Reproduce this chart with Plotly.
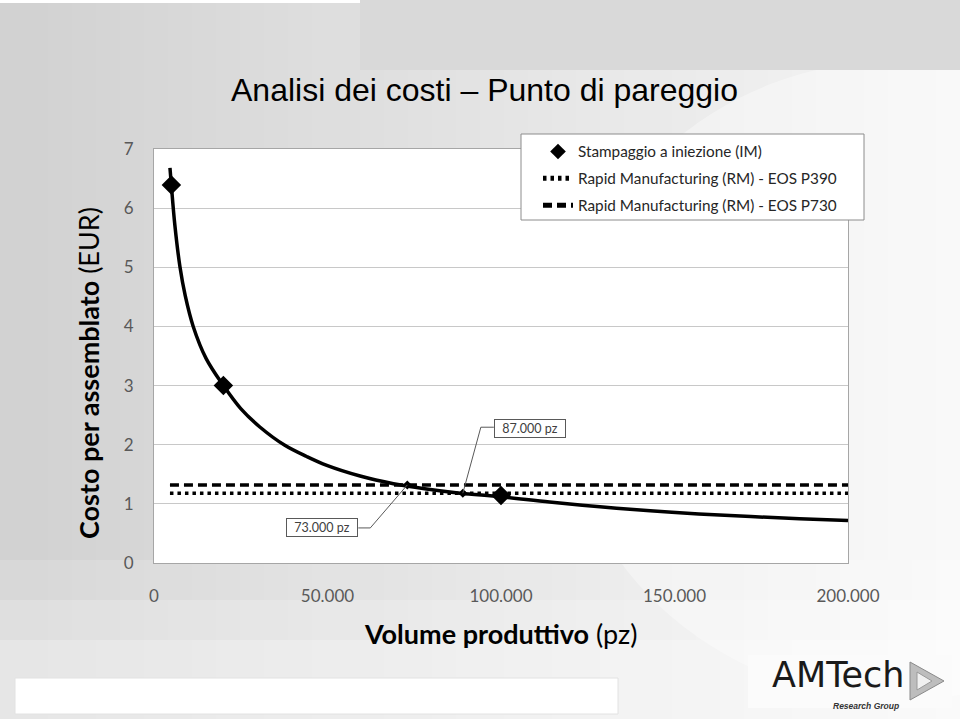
import plotly.graph_objects as go

# ---------------- data ----------------
im_volume = [5000, 20000, 100000]
im_cost = [6.39, 3.0, 1.14]

curve_volume = [4600, 5000, 6000, 7500, 9000, 11300, 15000, 20000, 25000, 30500,
                37700, 44000, 49800, 59400, 69000, 78000, 88200, 100000, 114000,
                128500, 143000, 157000, 172000, 186000, 200000]
curve_cost = [6.68, 6.39, 5.72, 5.0, 4.52, 4.0, 3.46, 3.0, 2.61, 2.30,
              1.99, 1.8, 1.65, 1.47, 1.34, 1.255, 1.18, 1.12, 1.03,
              0.95, 0.885, 0.83, 0.785, 0.75, 0.72]

rm390_volume = [4600, 200000]
rm390_cost = [1.18, 1.18]
rm730_volume = [4600, 200000]
rm730_cost = [1.32, 1.32]

be_volume = [73000, 89000]
be_cost = [1.32, 1.18]
be_labels = ["73.000 pz", "87.000 pz"]

x_ticks = [0, 50000, 100000, 150000, 200000]
y_ticks = [0, 1, 2, 3, 4, 5, 6, 7]

# ---------------- layout helpers (pixel -> paper) ----------------
L, R, T, B = 154, 848, 149, 563
W, H = 960, 719


def PX(x):
    return (x - L) / (R - L)


def PY(y):
    return (B - y) / (B - T)


LEG_FONT = "Lato, 'Open Sans', sans-serif"

fig = go.Figure()

fig.add_trace(go.Scatter(
    x=curve_volume, y=curve_cost, mode="lines",
    line=dict(color="black", width=3.5, shape="spline", smoothing=1.0),
    showlegend=False, hoverinfo="skip"))

fig.add_trace(go.Scatter(
    x=rm390_volume, y=rm390_cost, mode="lines",
    name="Rapid Manufacturing (RM) - EOS P390",
    line=dict(color="black", width=3.5, dash="3.5px,4px"),
    legendgroup="b", legendrank=2))

fig.add_trace(go.Scatter(
    x=rm730_volume, y=rm730_cost, mode="lines",
    name="Rapid Manufacturing (RM) - EOS P730",
    line=dict(color="black", width=3.5, dash="9px,5px"),
    legendgroup="c", legendrank=3))

fig.add_trace(go.Scatter(
    x=be_volume, y=be_cost, mode="markers",
    marker=dict(symbol="diamond", size=7, color="black"),
    showlegend=False, hoverinfo="skip"))

fig.add_trace(go.Scatter(
    x=im_volume, y=im_cost, mode="markers",
    name="Stampaggio a iniezione (IM)",
    marker=dict(symbol="diamond", size=15, color="black"),
    legendgroup="a", legendrank=1))

# ---------------- background shapes ----------------
shapes = []
N = 40
for i in range(N):
    t = i / (N - 1)
    c = int(210 + 36 * t)
    shapes.append(dict(type="rect", xref="paper", yref="paper", layer="below",
                       x0=PX(i * W / N), x1=PX((i + 1) * W / N + 1),
                       y0=PY(H), y1=PY(0),
                       fillcolor=f"rgb({c},{c},{c})", line=dict(width=0)))
for (y0, y1, op) in [(560, 600, 0.15), (600, 640, 0.3), (640, 719, 0.45)]:
    shapes.append(dict(type="rect", xref="paper", yref="paper", layer="below",
                       x0=PX(0), x1=PX(W), y0=PY(y1), y1=PY(y0),
                       fillcolor="white", opacity=op, line=dict(width=0)))
shapes.append(dict(type="circle", xref="paper", yref="paper", layer="below",
                   x0=PX(560), x1=PX(1240), y0=PY(700), y1=PY(60),
                   fillcolor="white", opacity=0.35, line=dict(width=0)))
shapes.append(dict(type="rect", xref="paper", yref="paper", layer="below",
                   x0=PX(0), x1=PX(360), y0=PY(3), y1=PY(0),
                   fillcolor="white", line=dict(width=0)))
shapes.append(dict(type="rect", xref="paper", yref="paper", layer="below",
                   x0=PX(360), x1=PX(W), y0=PY(70), y1=PY(0),
                   fillcolor="#d9d9d9", line=dict(width=0)))
shapes.append(dict(type="rect", xref="paper", yref="paper", layer="below",
                   x0=0, x1=1, y0=0, y1=1, fillcolor="white", line=dict(width=0)))
shapes.append(dict(type="rect", xref="paper", yref="paper", layer="below",
                   x0=PX(15), x1=PX(618), y0=PY(714), y1=PY(678),
                   fillcolor="white", line=dict(color="#e2e2e2", width=1)))
shapes.append(dict(type="rect", xref="paper", yref="paper", layer="below",
                   x0=PX(748), x1=PX(952), y0=PY(708), y1=PY(655),
                   fillcolor="#fbfbfb", line=dict(width=0)))
# logo triangle
shapes.append(dict(type="path", xref="paper", yref="paper", layer="above",
                   path=f"M {PX(910)} {PY(662)} L {PX(944)} {PY(681)} L {PX(910)} {PY(700)} Z",
                   fillcolor="#bdbdbd", line=dict(color="#8a8a8a", width=1)))
shapes.append(dict(type="path", xref="paper", yref="paper", layer="above",
                   path=f"M {PX(917)} {PY(672)} L {PX(932)} {PY(681)} L {PX(917)} {PY(690)} Z",
                   fillcolor="#f0f0f0", line=dict(color="#9a9a9a", width=1)))
# legend frame
shapes.append(dict(type="rect", xref="paper", yref="paper", layer="above",
                   x0=PX(521), x1=PX(864), y0=PY(220), y1=PY(134),
                   fillcolor="white", line=dict(color="#8c8c8c", width=1)))

# ---------------- leader lines (pixel offsets from the break-even points) ----------------
leaders = [
    [(0, 0, -37, -43), (-37, -43, -49, -43)],
    [(0, 0, 18, 66), (18, 66, 31, 66)],
]
for (bx, by, segs) in zip(be_volume, be_cost, leaders):
    for (a0, b0, a1, b1) in segs:
        shapes.append(dict(type="line", xref="x", yref="y",
                           xsizemode="pixel", ysizemode="pixel",
                           xanchor=bx, yanchor=by,
                           x0=a0, x1=a1, y0=b0, y1=b1,
                           line=dict(color="#595959", width=1), layer="above"))

# ---------------- annotations ----------------
annotations = []
label_shift = [(-85, -43), (67, 65)]
for bx, by, lab, (sx, sy) in zip(be_volume, be_cost, be_labels, label_shift):
    annotations.append(dict(x=bx, y=by, xref="x", yref="y", text=lab, showarrow=False,
                            xshift=sx, yshift=sy,
                            font=dict(family=LEG_FONT, size=12.5, color="#404040"),
                            bgcolor="white", bordercolor="#595959", borderwidth=1,
                            borderpad=1, width=68))

annotations.append(dict(x=PX(484), y=PY(90), xref="paper", yref="paper",
                        text="Analisi dei costi – Punto di pareggio", showarrow=False,
                        xanchor="center", yanchor="middle",
                        font=dict(family="Liberation Sans, Arial, sans-serif", size=32,
                                  color="black")))
annotations.append(dict(x=PX(88), y=PY(373), xref="paper", yref="paper",
                        text="<b>Costo per assemblato</b> (EUR)", showarrow=False,
                        textangle=-90, xanchor="center", yanchor="middle",
                        font=dict(family=LEG_FONT, size=27, color="black")))
annotations.append(dict(x=PX(500), y=PY(633), xref="paper", yref="paper",
                        text="<b>Volume produttivo</b> (pz)", showarrow=False,
                        xanchor="center", yanchor="middle",
                        font=dict(family=LEG_FONT, size=27, color="black")))
# logo
annotations.append(dict(x=PX(907), y=PY(675), xref="paper", yref="paper",
                        text="AMTech", showarrow=False, xanchor="right", yanchor="middle",
                        font=dict(family="DejaVu Sans, sans-serif", size=35,
                                  color="#1a1a1a")))
annotations.append(dict(x=PX(901), y=PY(706), xref="paper", yref="paper",
                        text="<i><b>Research Group</b></i>", showarrow=False,
                        xanchor="right", yanchor="middle",
                        font=dict(family="Liberation Sans, sans-serif", size=8.5,
                                  color="#333333")))

fig.update_layout(
    width=W, height=H,
    margin=dict(l=L, r=W - R, t=T, b=H - B),
    paper_bgcolor="#e6e6e6", plot_bgcolor="white",
    separators=",.",
    shapes=shapes, annotations=annotations,
    showlegend=True,
    legend=dict(x=PX(538), y=PY(135), xanchor="left", yanchor="top",
                bgcolor="rgba(0,0,0,0)", borderwidth=0,
                font=dict(family=LEG_FONT, size=15.3, color="#262626"),
                traceorder="grouped", tracegroupgap=4, itemwidth=30,
                itemsizing="constant"),
    xaxis=dict(range=[0, 200000], tickvals=x_ticks, tickformat=",d",
               showgrid=False, zeroline=False,
               showline=True, mirror=True, linecolor="#a6a6a6", linewidth=1,
               ticks="", ticklabelstandoff=18,
               tickfont=dict(family=LEG_FONT, size=17, color="#595959")),
    yaxis=dict(range=[0, 7], tickvals=y_ticks,
               showgrid=True, gridcolor="#c8c8c8", gridwidth=1, zeroline=False,
               showline=True, mirror=True, linecolor="#a6a6a6", linewidth=1,
               ticks="", ticklabelstandoff=16,
               tickfont=dict(family=LEG_FONT, size=17, color="#595959")),
)

fig.write_html("out.html")
